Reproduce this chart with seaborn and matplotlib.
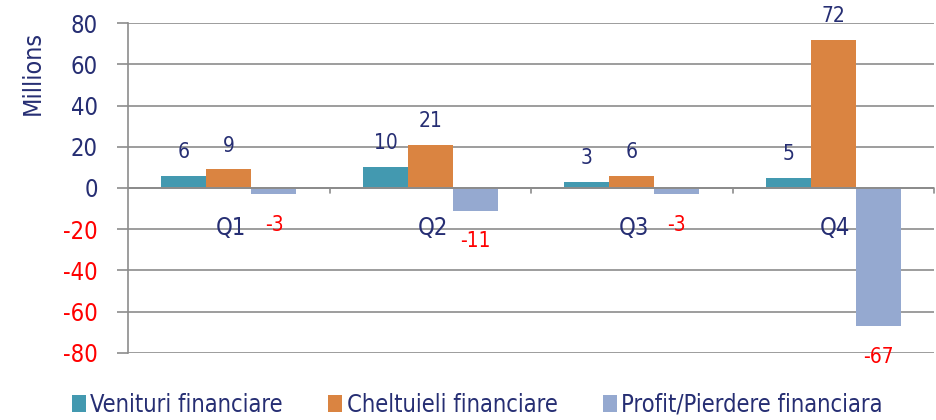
"""Venituri / cheltuieli financiare pe trimestre (grouped bar chart)."""

import matplotlib.pyplot as plt
import pandas as pd
import seaborn as sns
from matplotlib.patches import Patch

QUARTERS = ["Q1", "Q2", "Q3", "Q4"]
SERIES = ["Venituri financiare", "Cheltuieli financiare", "Profit/Pierdere financiara"]
VENITURI = [6, 10, 3, 5]
CHELTUIELI = [9, 21, 6, 72]
PROFIT = [-3, -11, -3, -67]
Y_TICKS = [-80, -60, -40, -20, 0, 20, 40, 60, 80]

COLORS = ["#4399B0", "#DA8441", "#95A9D0"]
NAVY = "#262E73"
RED = "#FF0000"
GRID = "#8C8C8C"

df = pd.DataFrame(
    {
        "quarter": QUARTERS * 3,
        "series": [s for s in SERIES for _ in QUARTERS],
        "value": VENITURI + CHELTUIELI + PROFIT,
    }
)

sns.set_theme(style="white")
plt.rcParams["font.family"] = ["DejaVu Sans"]
plt.rcParams["font.stretch"] = "condensed"

fig = plt.figure(figsize=(9.36, 4.2), dpi=100)
ax = fig.add_axes([0.137, 0.16, 0.861, 0.785])

sns.barplot(
    data=df, x="quarter", y="value", hue="series", order=QUARTERS,
    hue_order=SERIES, palette=COLORS, width=0.67, gap=0, saturation=1,
    errorbar=None, legend=False, linewidth=0, ax=ax,
)

ax.set_ylim(-80, 80)
ax.set_xlim(-0.5, 3.5)
ax.set_yticks(Y_TICKS)
ax.set_yticklabels([str(t) for t in Y_TICKS], fontsize=17)
for lab, t in zip(ax.get_yticklabels(), Y_TICKS):
    lab.set_color(RED if t < 0 else NAVY)
ax.yaxis.grid(True, color=GRID, linewidth=1.2)
ax.set_axisbelow(True)
ax.tick_params(axis="y", length=8, width=1.2, color=GRID, pad=14, left=True)
ax.set_xticks([])
ax.set_xlabel("")
ax.set_ylabel("")
for side in ["top", "right", "bottom"]:
    ax.spines[side].set_visible(False)
ax.spines["left"].set_color(GRID)
ax.spines["left"].set_linewidth(1.2)

# axis title sits at the top of the value axis
fig.text(33 / 936, 1 - 73 / 420, "Millions", rotation=90, ha="center", va="center",
         fontsize=18, color=NAVY)

# zero line with category separators
ax.axhline(0, color=GRID, linewidth=1.4, zorder=1)
for b in [0.5, 1.5, 2.5, 3.5]:
    ax.plot([b, b], [0, -2.5], color=GRID, linewidth=1.2, clip_on=False)

# category names just below zero
for i, q in enumerate(QUARTERS):
    ax.text(i + 0.01, -19.5, q, ha="center", va="center", fontsize=17, color=NAVY)

# value labels
for cont in ax.containers:
    for bar in cont:
        h = bar.get_height()
        x = bar.get_x() + bar.get_width() / 2
        if h >= 0:
            ax.annotate(f"{h:.0f}", (x, h), xytext=(0, 10), textcoords="offset points",
                        ha="center", va="bottom", fontsize=15, color=NAVY)
        else:
            ax.annotate(f"{h:.0f}", (x, h), xytext=(0, -15), textcoords="offset points",
                        ha="center", va="top", fontsize=15, color=RED)

handles = [Patch(facecolor=c, edgecolor="none") for c in COLORS]
leg = fig.legend(
    handles, SERIES, loc="center left", bbox_to_anchor=(55 / 936, 1 - 405 / 420), ncol=3,
    frameon=False, fontsize=17, handlelength=0.6, handleheight=0.7,
    handletextpad=0.2, columnspacing=1.9, borderpad=0.2,
)
for t in leg.get_texts():
    t.set_color(NAVY)

fig.savefig("out.png", dpi=100, facecolor="white")
